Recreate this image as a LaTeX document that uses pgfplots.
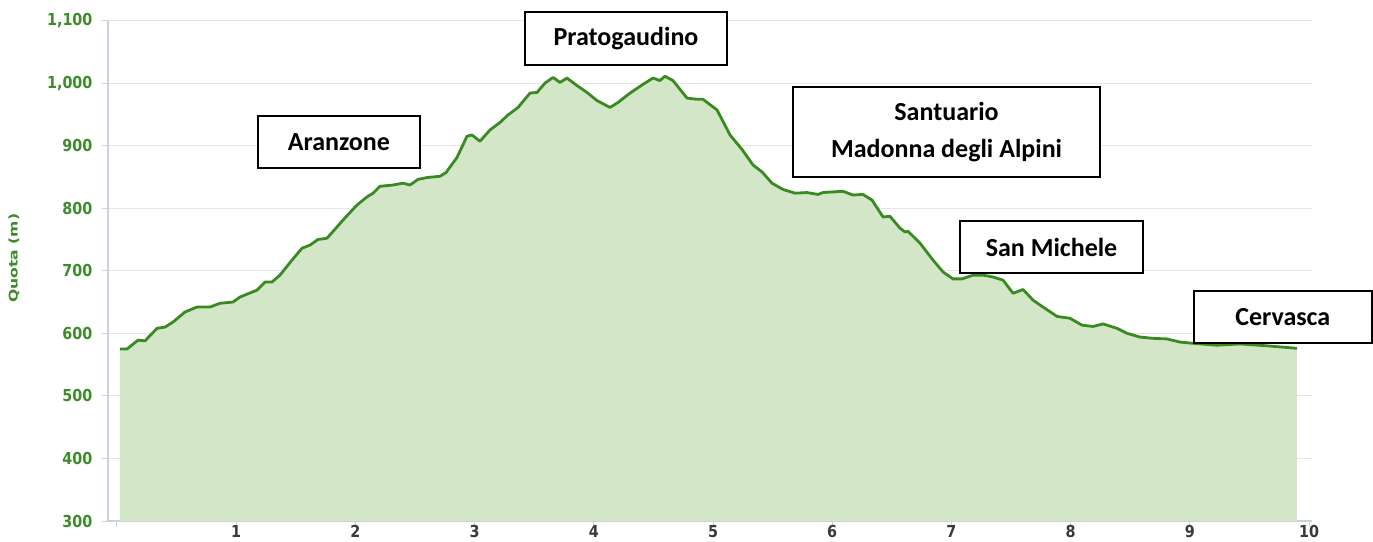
\documentclass[border=0pt]{standalone}
\usepackage{fontspec}
\setmainfont{Carlito}
\newfontfamily\tickfont[FakeStretch=0.87]{DejaVu Sans}
\newfontfamily\ylabfont[FakeStretch=1.3]{DejaVu Sans}
\usepackage{pgfplots}
\usepackage{pgfplotstable}
\pgfplotsset{compat=1.18}
\definecolor{linegreen}{HTML}{3A8A22}
\definecolor{fillgreen}{HTML}{D4E6C8}
\definecolor{tickgreen}{HTML}{3C8C2A}
\definecolor{axisgray}{HTML}{C8D2DC}
\definecolor{gridgray}{HTML}{E6E6E6}
\definecolor{xlab}{HTML}{3A3A3A}
\tikzset{labbox/.style={draw=black, line width=2pt, fill=white, inner sep=0pt, align=center, font=\bfseries\fontsize{26}{37}\selectfont}}
\pgfplotstableread{
km quota
0.025 575
0.084 575
0.176 589
0.235 588
0.336 608
0.403 610
0.470 618
0.570 634
0.671 642
0.780 642
0.864 648
0.973 650
1.032 658
1.174 669
1.242 682
1.300 682
1.367 693
1.468 717
1.552 736
1.619 741
1.686 750
1.762 752
1.896 781
2.013 805
2.097 818
2.148 824
2.206 835
2.315 837
2.399 840
2.458 837
2.525 846
2.601 849
2.710 851
2.760 857
2.852 881
2.936 915
2.978 917
3.045 907
3.129 925
3.213 937
3.280 949
3.364 961
3.465 984
3.523 985
3.591 1000
3.658 1009
3.716 1001
3.775 1008
3.859 996
3.943 985
4.027 972
4.136 961
4.203 969
4.304 984
4.413 998
4.497 1008
4.555 1004
4.597 1011
4.664 1004
4.782 976
4.866 974
4.916 974
5.034 957
5.143 917
5.243 894
5.336 869
5.411 858
5.495 840
5.587 830
5.688 824
5.789 825
5.881 822
5.923 825
6.091 827
6.174 821
6.258 822
6.334 813
6.426 786
6.485 787
6.569 768
6.611 762
6.636 763
6.737 744
6.846 717
6.930 698
7.013 687
7.089 687
7.181 693
7.265 693
7.349 690
7.433 685
7.517 664
7.601 670
7.685 653
7.768 642
7.886 627
7.995 624
8.096 613
8.188 611
8.272 615
8.389 608
8.473 600
8.582 594
8.691 592
8.809 591
8.918 586
9.027 584
9.228 581
9.421 583
9.648 580
9.899 576
}\profile
\begin{document}
\begin{tikzpicture}
\begin{axis}[
  at={(108pt,20pt)}, anchor=south west,
  scale only axis, width=1204pt, height=500.5pt,
  xmin=-0.0755, xmax=10.025, ymin=300, ymax=1100,
  axis lines=left, axis line style={-, draw=axisgray, line width=1.2pt},
  xtick={0,1,...,10}, xticklabels={,1,2,3,4,5,6,7,8,9,10},
  ytick={300,400,...,1100},
  ymajorgrids, grid style={gridgray, line width=1pt},
  tick align=outside, major tick length=6pt,
  tick style={axisgray, line width=1pt},
  /pgf/number format/assume math mode=true,
  /pgf/number format/1000 sep={,},
  yticklabel style={font=\tickfont\bfseries\fontsize{16.5}{18}\selectfont, text=tickgreen, anchor=east, xshift=-6pt},
  xticklabel style={font=\tickfont\bfseries\fontsize{16.5}{18}\selectfont, text=xlab, yshift=5pt},
  ylabel={Quota (m)},
  ylabel style={at={(axis description cs:-0.0781,0.525)}, anchor=center, font=\ylabfont\bfseries\fontsize{12}{14}\selectfont, text=tickgreen},
  clip mode=individual,
]
\addplot[draw=none, fill=fillgreen] table[x=km, y=quota] {\profile} \closedcycle;
\addplot[linegreen, line width=2.8pt, line join=round] table[x=km, y=quota] {\profile};
\node[labbox, minimum width=162pt, minimum height=52pt] at (axis cs:1.862,905.4) {Aranzone};
\node[labbox, minimum width=202pt, minimum height=53pt] at (axis cs:4.27,1071.6) {Pratogaudino};
\node[labbox, minimum width=307pt, minimum height=90pt] at (axis cs:6.959,921.4) {Santuario\\Madonna degli Alpini};
\node[labbox, minimum width=183pt, minimum height=52pt] at (axis cs:7.84,737.7) {San Michele};
\node[labbox, minimum width=178pt, minimum height=52pt] at (axis cs:9.78,625.9) {Cervasca};
\end{axis}
\pgfresetboundingbox
\useasboundingbox (0,0) rectangle (1373pt,541pt);
\end{tikzpicture}
\end{document}
